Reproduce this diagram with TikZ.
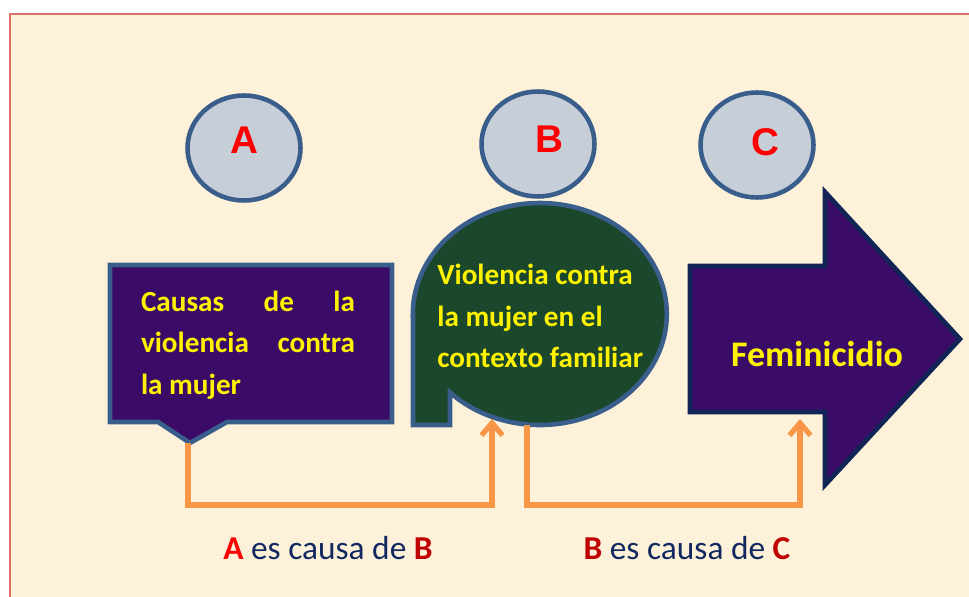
\documentclass[tikz,border=0pt]{standalone}
\usepackage{fontspec}
\setmainfont{Carlito}
\newfontfamily\letterfont{Liberation Sans}
\usetikzlibrary{arrows.meta,shapes.geometric}

\definecolor{cream}{RGB}{253,242,217}
\definecolor{framered}{RGB}{221,112,104}
\definecolor{steel}{RGB}{58,94,140}
\definecolor{navyedge}{RGB}{16,36,86}
\definecolor{ballgray}{RGB}{198,207,215}
\definecolor{deeppurple}{RGB}{58,12,104}
\definecolor{moss}{RGB}{27,72,44}
\definecolor{linkorange}{RGB}{247,150,70}
\definecolor{textnavy}{RGB}{18,40,96}
\definecolor{darkred}{RGB}{192,0,0}

\tikzset{
    ball/.style = {ellipse, draw = steel, line width = 2.6pt, fill = ballgray,
      minimum width = 2.26cm, minimum height = 2.1cm, inner sep = 0pt},
    letter/.style = {text = red, inner sep = 0pt,
      font = \letterfont\bfseries\fontsize{22}{22}\selectfont},
    boxtext/.style = {text = yellow, inner sep = 0pt,
      font = \bfseries\fontsize{16.6}{23.7}\selectfont},
    link/.style = {draw = linkorange, line width = 3pt,
      -{Straight Barb[length = 7pt, width = 12pt]}},
    caption/.style = {text = textnavy, inner sep = 0pt,
      font = \fontsize{19}{19}\selectfont}
}

\begin{document}
\begin{tikzpicture}[x = 0.02cm, y = -0.02cm]
    \useasboundingbox (0, 0) rectangle (969, 597);
    \fill[cream] (10, 14) rectangle (969, 597);
    \draw[framered, line width = 1.2pt] (10, 597) -- (10, 14) -- (969, 14);

    \node[ball] (ballA) at (244, 148) {};
    \node[ball] (ballB) at (538, 144) {};
    \node[ball] (ballC) at (757, 145) {};
    \node[letter] (letA) at (244, 140) {A};
    \node[letter] (letB) at (549, 139) {B};
    \node[letter] (letC) at (765, 142) {C};

    \filldraw[draw = steel, fill = deeppurple, line width = 2.6pt]
      (110, 265) -- (392, 265) -- (392, 422) -- (227, 422)
      -- (190, 443) -- (158, 422) -- (110, 422) -- cycle;

    \filldraw[draw = steel, fill = moss, line width = 2.6pt]
      (413, 314) -- (413, 425) -- (450, 425) -- (450, 392.5)
      arc[start angle = 135, end angle = -180, x radius = 127, y radius = 111]
      -- cycle;

    \filldraw[draw = navyedge, fill = deeppurple, line width = 2.6pt]
      (690, 266) -- (825, 266) -- (825, 192) -- (960, 339)
      -- (825, 485) -- (825, 412) -- (690, 412) -- cycle;

    \node[boxtext, text width = 4.28cm, align = justify] (textA) at (248, 345)
      {Causas de la\linebreak violencia contra\linebreak la mujer};
    \node[boxtext, anchor = west, align = left] (textB) at (437, 316)
      {Violencia contra\\ la mujer en el\\ contexto familiar};
    \node[boxtext, font = \bfseries\fontsize{20.5}{20.5}\selectfont] (fem) at (817, 354)
      {Feminicidio};

    \coordinate (tipA) at (188, 443);
    \coordinate (inB) at (492, 419);
    \coordinate (outB) at (527, 425);
    \coordinate (inC) at (800, 419);

    \draw[link] (tipA) -- ++(0, 62) -| (inB);
    \draw[link] (outB) -- ++(0, 80) -| (inC);

    \node[caption] (capAB) at (328, 548)
      {{\bfseries\color{red}A} es causa de {\bfseries\color{darkred}B}};
    \node[caption] (capBC) at (687, 548)
      {{\bfseries\color{darkred}B} es causa de {\bfseries\color{darkred}C}};

  \end{tikzpicture}
\end{document}
